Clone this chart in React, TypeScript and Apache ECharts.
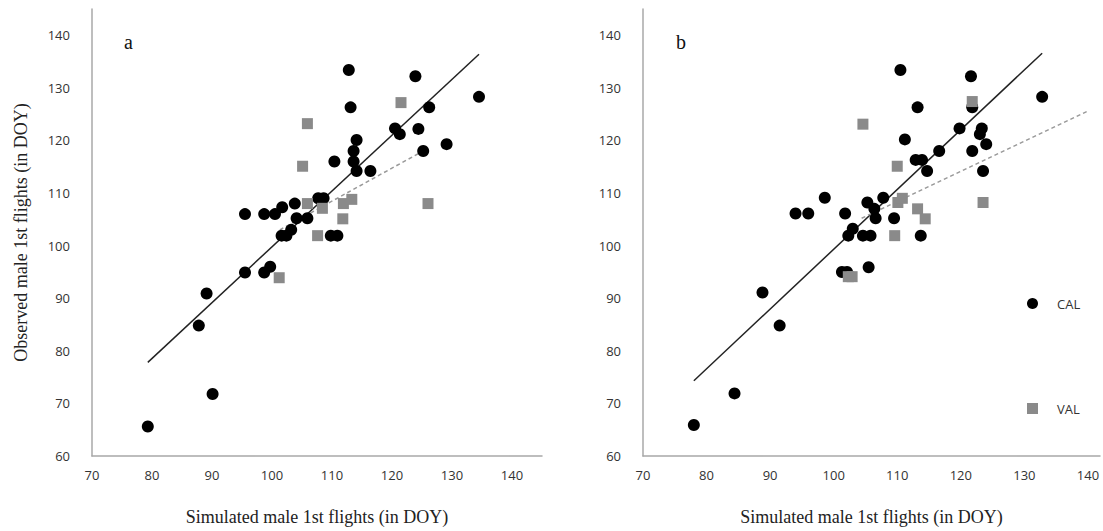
import React, { useEffect, useRef } from "react";
import * as echarts from "echarts";

// panel a
const calA: number[][] = [
  [112.8, 133.4], [123.9, 132.2], [134.5, 128.3], [113.1, 126.3], [126.2, 126.3],
  [120.5, 122.3], [121.3, 121.2], [124.4, 122.2], [114.1, 120.1], [129.1, 119.3],
  [125.2, 118.0], [113.6, 118.0], [110.4, 116.0], [113.6, 116.0], [114.1, 114.2],
  [116.4, 114.2], [107.7, 109.0], [108.6, 109.0], [103.8, 108.0], [101.7, 107.3],
  [95.5, 106.0], [98.7, 106.0], [100.5, 106.0], [104.1, 105.2], [105.9, 105.2],
  [103.2, 103.0], [101.6, 101.9], [102.4, 101.9], [109.8, 101.9], [110.9, 101.9],
  [95.5, 94.9], [98.7, 94.9], [99.7, 96.0], [89.1, 90.9], [87.8, 84.8],
  [90.1, 71.8], [79.3, 65.6],
];
const valA: number[][] = [
  [121.5, 127.2], [105.9, 123.2], [105.1, 115.1], [105.9, 108.0], [108.4, 107.1],
  [111.9, 108.0], [113.3, 108.8], [111.8, 105.1], [107.6, 101.9], [101.2, 93.9],
  [126.0, 108.0],
];
const calLineA: number[][] = [[79.3, 77.8], [134.5, 136.4]];
const valLineA: number[][] = [[101.3, 103.0], [125.2, 118.0]];

// panel b
const calB: number[][] = [
  [110.5, 133.4], [121.6, 132.2], [132.8, 128.3], [113.2, 126.3], [121.8, 126.3],
  [119.8, 122.3], [123.3, 122.3], [123.0, 121.2], [111.2, 120.2], [124.0, 119.3],
  [116.6, 118.0], [121.8, 118.0], [112.9, 116.3], [113.9, 116.3], [114.7, 114.2],
  [123.5, 114.2], [98.6, 109.1], [105.3, 108.2], [107.8, 109.1], [106.4, 107.0],
  [106.6, 105.2], [109.5, 105.2], [94.0, 106.1], [96.0, 106.1], [101.8, 106.1],
  [103.0, 103.2], [102.3, 101.9], [104.6, 101.9], [105.8, 101.9], [113.7, 101.9],
  [101.3, 95.0], [102.1, 95.0], [105.5, 95.9], [88.8, 91.1], [91.5, 84.8],
  [84.4, 71.9], [78.0, 65.9],
];
const valB: number[][] = [
  [121.8, 127.4], [104.6, 123.1], [110.0, 115.1], [110.1, 108.2], [110.8, 109.0],
  [113.2, 107.0], [114.4, 105.1], [109.6, 101.9], [102.3, 94.1], [102.9, 94.1],
  [123.5, 108.2],
];
const calLineB: number[][] = [[78.0, 74.3], [132.8, 136.6]];
const valLineB: number[][] = [[104.4, 105.2], [140.0, 125.6]];

const xTitle = "Simulated male 1st flights (in DOY)";
const yTitle = "Observed male 1st flights (in DOY)";

const labelFont = "'Open Sans', 'Liberation Sans', sans-serif";
const serif = "'Liberation Serif', 'DejaVu Serif', serif";
const hideOver = (v: number) => (v > 140 ? "" : String(v));

const App = () => {
  const chartRef = useRef<HTMLDivElement>(null);

  useEffect(() => {
    const chart = echarts.init(chartRef.current, null, { renderer: "svg" });

    const axisLine = { lineStyle: { color: "#a8a8a8", width: 1.5 } };
    const axisLabel = { color: "#333", fontSize: 13, fontFamily: labelFont, formatter: hideOver };
    const nameStyle = { color: "#222", fontSize: 18, fontFamily: serif };

    const xAxis = (gridIndex: number, max: number) => ({
      type: "value", gridIndex, min: 70, max, interval: 10,
      axisLine: { show: true, ...axisLine }, axisTick: { show: false },
      splitLine: { show: false }, axisLabel: { ...axisLabel, margin: 12 },
      name: xTitle, nameLocation: "middle", nameGap: 52, nameTextStyle: nameStyle,
    });
    const yAxis = (gridIndex: number, named: boolean) => ({
      type: "value", gridIndex, min: 60, max: 145, interval: 10,
      axisLine: { show: true, ...axisLine }, axisTick: { show: false },
      splitLine: { show: false }, axisLabel: { ...axisLabel, margin: 22 },
      name: named ? yTitle : "", nameLocation: "middle", nameGap: 62, nameTextStyle: nameStyle,
    });

    const dots = (name: string, data: number[][], i: number) => ({
      name, type: "scatter", xAxisIndex: i, yAxisIndex: i, data,
      symbol: "circle", symbolSize: 12, itemStyle: { color: "#000", opacity: 1 },
    });
    const squares = (name: string, data: number[][], i: number) => ({
      name, type: "scatter", xAxisIndex: i, yAxisIndex: i, data,
      symbol: "rect", symbolSize: 11, itemStyle: { color: "#8a8a8a", opacity: 1 },
    });
    const fit = (data: number[][], i: number, dashed: boolean) => ({
      name: dashed ? "valfit" : "calfit", type: "line", xAxisIndex: i, yAxisIndex: i, data,
      symbol: "none", silent: true, z: 1,
      lineStyle: dashed
        ? { color: "#999", width: 1.5, type: [4, 3] }
        : { color: "#222", width: 1.5 },
    });

    chart.setOption({
      animation: false,
      grid: [
        { left: 92, top: 9, width: 450, height: 447 },
        { left: 643, top: 9, width: 460, height: 447 },
      ],
      xAxis: [xAxis(0, 145), xAxis(1, 141.9)],
      yAxis: [yAxis(0, true), yAxis(1, false)],
      legend: {
        orient: "vertical", left: 1022, top: 292, itemGap: 92,
        itemWidth: 11, itemHeight: 11,
        textStyle: { color: "#333", fontSize: 13, fontFamily: labelFont, padding: [0, 0, 0, 14] },
        data: [{ name: "CAL", icon: "circle" }, { name: "VAL", icon: "rect", itemStyle: { color: "#8a8a8a" } }],
      },
      graphic: [
        { type: "text", left: 124, top: 32, style: { text: "a", font: `20px ${serif}`, fill: "#111" } },
        { type: "text", left: 676, top: 32, style: { text: "b", font: `20px ${serif}`, fill: "#111" } },
      ],
      series: [
        fit(calLineA, 0, false), fit(valLineA, 0, true),
        dots("CAL", calA, 0), squares("VAL", valA, 0),
        fit(calLineB, 1, false), fit(valLineB, 1, true),
        dots("CAL", calB, 1), squares("VAL", valB, 1),
      ],
    });
    return () => {
      chart.dispose();
    };
  }, []);

  return (
    <div
      ref={chartRef}
      style={{ position: "absolute", left: 0, top: 0, width: "1103px", height: "531px", background: "#fff" }}
    />
  );
};

export default App;
